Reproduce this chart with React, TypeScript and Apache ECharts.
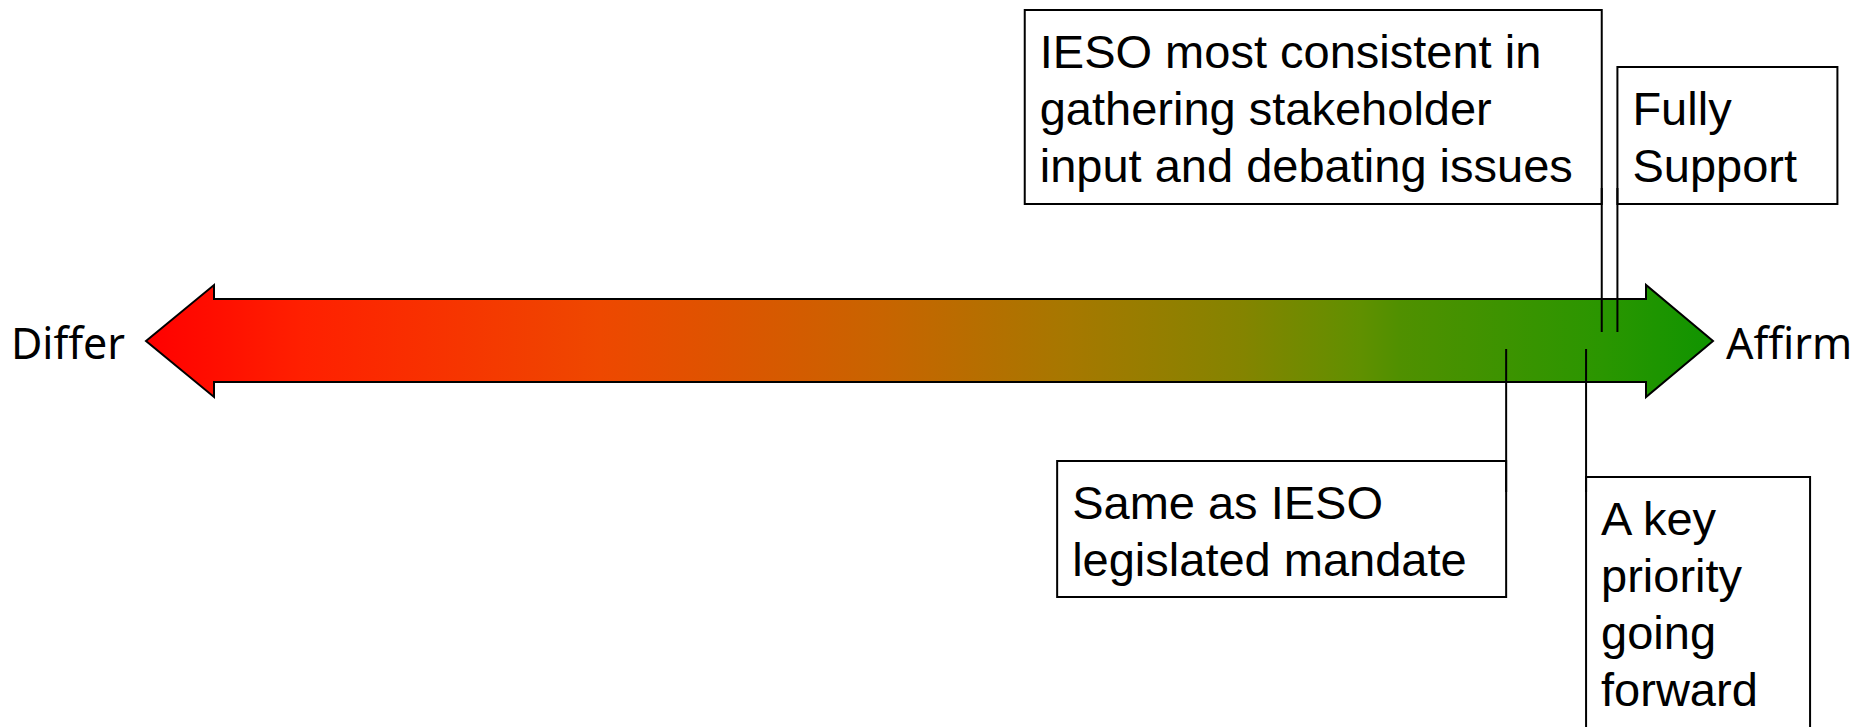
import React, { useEffect, useRef } from "react";
import * as echarts from "echarts";

// ---- data ----
const endLabels = ["Differ", "Affirm"];
const scaleRange = [0, 100];
const calloutLabels = [
  "IESO most consistent in\ngathering stakeholder\ninput and debating issues",
  "Fully\nSupport",
  "Same as IESO\nlegislated mandate",
  "A key\npriority\ngoing\nforward",
];
const calloutValues = [92.9, 93.9, 86.8, 91.9];

// ---- layout / style ----
const W = 1868;
const H = 727;
const CY = 341;
const calloutLayout = [
  { side: "above", boxSide: "left", top: 10, width: 577, height: 194 },
  { side: "above", boxSide: "right", top: 67, width: 220, height: 137 },
  { side: "below", boxSide: "left", top: 461, width: 449, height: 136 },
  { side: "below", boxSide: "right", top: 477, width: 224, height: 300 },
];
const gradientStops = [
  { offset: 0, color: "#FF0000" },
  { offset: 0.1, color: "#FF2000" },
  { offset: 0.29, color: "#EE4800" },
  { offset: 0.47, color: "#C86400" },
  { offset: 0.59, color: "#A67800" },
  { offset: 0.7, color: "#848400" },
  { offset: 0.775, color: "#609000" },
  { offset: 0.8, color: "#509000" },
  { offset: 0.93, color: "#2A9600" },
  { offset: 1, color: "#109400" },
];

export default function App() {
  const ref = useRef<HTMLDivElement>(null);
  useEffect(() => {
    if (!ref.current) return;
    const chart = echarts.init(ref.current, null, { renderer: "svg" });
    const option: any = {
      animation: false,
      backgroundColor: "#ffffff",
      grid: { left: 146, right: W - 1713, top: 0, bottom: 0 },
      xAxis: { type: "value", min: scaleRange[0], max: scaleRange[1], show: false },
      yAxis: { type: "value", min: 0, max: 1, show: false },
      series: [
        {
          type: "custom",
          clip: false,
          silent: true,
          z: 2,
          data: [[scaleRange[0], scaleRange[1]]],
          renderItem: (params: any, api: any) => {
            const lx = api.coord([api.value(0), 0.5])[0];
            const rx = api.coord([api.value(1), 0.5])[0];
            const hl = 68;
            const hr = 67;
            const pts = [
              [lx, CY],
              [lx + hl, CY - 56],
              [lx + hl, CY - 42],
              [rx - hr, CY - 42],
              [rx - hr, CY - 56],
              [rx, CY],
              [rx - hr, CY + 56],
              [rx - hr, CY + 41],
              [lx + hl, CY + 41],
              [lx + hl, CY + 56],
            ];
            return {
              type: "group",
              children: [
                {
                  type: "polygon",
                  shape: { points: pts },
                  style: {
                    fill: new echarts.graphic.LinearGradient(0, 0, 1, 0, gradientStops),
                    stroke: "#000000",
                    lineWidth: 2,
                  },
                },
                {
                  type: "text",
                  style: {
                    text: endLabels[0],
                    x: lx - 21,
                    y: CY + 1,
                    align: "right",
                    verticalAlign: "middle",
                    fontSize: 43,
                    fontFamily: "Noto Sans",
                    fill: "#000000",
                  },
                },
                {
                  type: "text",
                  style: {
                    text: endLabels[1],
                    x: rx + 13,
                    y: CY + 1,
                    align: "left",
                    verticalAlign: "middle",
                    fontSize: 43,
                    fontFamily: "Noto Sans",
                    fill: "#000000",
                  },
                },
              ],
            };
          },
        },
        {
          type: "custom",
          clip: false,
          silent: true,
          z: 3,
          data: calloutValues.map((v, i) => [v, i]),
          renderItem: (params: any, api: any) => {
            const i = params.dataIndex;
            const L = calloutLayout[i];
            const x = api.coord([api.value(0), 0.5])[0];
            const bx = L.boxSide === "left" ? x - L.width : x;
            const y1 = L.side === "above" ? 188 : CY + 8;
            const y2 = L.side === "above" ? CY - 9 : 492;
            return {
              type: "group",
              children: [
                {
                  type: "rect",
                  shape: { x: bx, y: L.top, width: L.width, height: L.height },
                  style: { fill: "#ffffff", stroke: "#000000", lineWidth: 2 },
                },
                {
                  type: "line",
                  shape: { x1: x, y1, x2: x, y2 },
                  style: { stroke: "#000000", lineWidth: 2 },
                },
                {
                  type: "text",
                  style: {
                    text: calloutLabels[i],
                    x: bx + 15,
                    y: L.top + 12.5,
                    align: "left",
                    verticalAlign: "top",
                    lineHeight: 57,
                    fontSize: 47,
                    fontFamily: "'Liberation Sans'",
                    fill: "#000000",
                  },
                },
              ],
            };
          },
        },
      ],
    };
    chart.setOption(option);
    return () => chart.dispose();
  }, []);
  return (
    <div
      ref={ref}
      style={{ position: "fixed", left: 0, top: 0, width: W, height: H, background: "#fff" }}
    />
  );
}
